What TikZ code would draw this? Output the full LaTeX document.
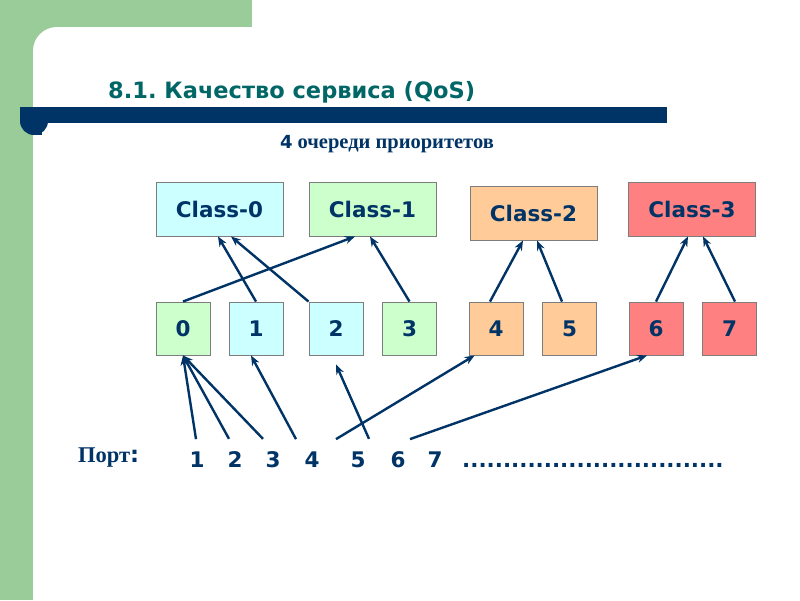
\documentclass[tikz,border=0pt]{standalone}
\usepackage{fontspec}
\setmainfont{Liberation Serif}
\newfontfamily\vfont{DejaVu Sans}
\usetikzlibrary{arrows.meta,calc}
\definecolor{navy}{RGB}{0,51,102}
\definecolor{tealt}{RGB}{0,102,102}
\definecolor{gstrip}{RGB}{153,204,153}
\definecolor{fcyan}{RGB}{204,255,255}
\definecolor{fgreen}{RGB}{204,255,204}
\definecolor{forange}{RGB}{255,204,153}
\definecolor{fred}{RGB}{255,128,128}
\definecolor{bgray}{RGB}{125,125,125}
\frenchspacing
\begin{document}
\begin{tikzpicture}[x=1pt,y=-1pt,
  cls/.style={draw=bgray, line width=0.9pt, minimum width=127pt, minimum height=54pt, inner sep=0pt,
    font=\vfont\bfseries\fontsize{21.5}{24}\selectfont, text=navy},
  qbox/.style={draw=bgray, line width=0.9pt, minimum width=54pt, minimum height=53pt, inner sep=0pt,
    font=\vfont\bfseries\fontsize{21.5}{24}\selectfont, text=navy},
  port/.style={font=\vfont\bfseries\fontsize{21.5}{24}\selectfont, text=navy, inner sep=0pt, anchor=base},
  arr/.style={draw=navy, line width=2.4pt, -{Stealth[length=10pt,width=8pt]}},
]
\useasboundingbox (0,0) rectangle (800,600);
% background
\fill[white] (0,0) rectangle (800,600);
\fill[gstrip] (0,0) rectangle (252,27);
\fill[gstrip] (0,0) rectangle (33,600);
\fill[gstrip] (33,27) rectangle (70,70);
\fill[white, rounded corners=24pt] (33,27) rectangle (300,130);
% navy bar
\fill[navy] (20,107) rectangle (667,123);
\fill[navy] (34,107) rectangle (42,135);
\fill[navy] (34,121) circle (14pt);
% title
\node[anchor=base west, inner sep=0pt, text=tealt, font=\vfont\bfseries\fontsize{22.5}{26}\selectfont] (title) at (108,98) {8.1. Качество сервиса (QoS)};
\node[anchor=base, inner sep=0pt, text=navy] (sub) at (387,148) {{\vfont\bfseries\fontsize{18}{20}\selectfont 4}\hspace{5pt}{\bfseries\fontsize{20.5}{22}\selectfont очереди приоритетов}};
% class boxes
\node[cls, fill=fcyan] (c0) at (219.5,209) {Class-0};
\node[cls, fill=fgreen] (c1) at (372.5,209) {Class-1};
\node[cls, fill=forange] (c2) at (533.5,213) {Class-2};
\node[cls, fill=fred] (c3) at (692,209) {Class-3};
% queue boxes
\node[qbox, fill=fgreen] (b0) at (183,328.5) {0};
\node[qbox, fill=fcyan] (b1) at (256,328.5) {1};
\node[qbox, fill=fcyan] (b2) at (336,328.5) {2};
\node[qbox, fill=fgreen] (b3) at (409.5,328.5) {3};
\node[qbox, fill=forange] (b4) at (496,328.5) {4};
\node[qbox, fill=forange] (b5) at (569.5,328.5) {5};
\node[qbox, fill=fred] (b6) at (656,328.5) {6};
\node[qbox, fill=fred] (b7) at (729.5,328.5) {7};
% ports
\node[anchor=base west, inner sep=0pt, text=navy] (plbl) at (78,462) {\bfseries\fontsize{22.5}{24}\selectfont Порт{\vfont :}};
\node[port] (p1) at (197,467) {1};
\node[port] (p2) at (235,467) {2};
\node[port] (p3) at (273,467) {3};
\node[port] (p4) at (312,467) {4};
\node[port] (p5) at (358,467) {5};
\node[port] (p6) at (398,467) {6};
\node[port] (p7) at (435,467) {7};
\node[port, anchor=base west] (dots) at (462,467) {................................};
% upper arrows
\draw[arr] (b0.north) -- ([xshift=-17.5pt]c1.south);
\draw[arr] (b1.north) -- ([xshift=-1.5pt]c0.south);
\draw[arr] (b2.north west) -- ([xshift=11.5pt]c0.south);
\draw[arr] (b3.north) -- ([xshift=-2.5pt]c1.south);
\draw[arr] ([xshift=-6pt]b4.north) -- ([xshift=-10.5pt]c2.south);
\draw[arr] ([xshift=-7.5pt]b5.north) -- ([xshift=3.5pt]c2.south);
\draw[arr] (b6.north) -- ([xshift=-4pt]c3.south);
\draw[arr] ([xshift=5.5pt]b7.north) -- ([xshift=11pt]c3.south);
% lower arrows
\draw[arr] ([xshift=-1pt,yshift=12pt]p1.north) -- (b0.south);
\draw[arr] ([xshift=-6pt,yshift=12pt]p2.north) -- (b0.south);
\draw[arr] ([xshift=-10pt,yshift=12pt]p3.north) -- (b0.south);
\draw[arr] ([xshift=-16pt,yshift=12pt]p4.north) -- ([xshift=-5pt]b1.south);
\draw[arr] ([xshift=-22pt,yshift=12pt]p5.north) -- ([xshift=6pt]b4.south west);
\draw[arr] ([xshift=-29pt,yshift=12pt]p6.north) -- ([yshift=-9pt]b2.south);
\draw[arr] ([xshift=-25pt,yshift=12pt]p7.north) -- ([xshift=-9pt]b6.south);
\end{tikzpicture}
\end{document}
